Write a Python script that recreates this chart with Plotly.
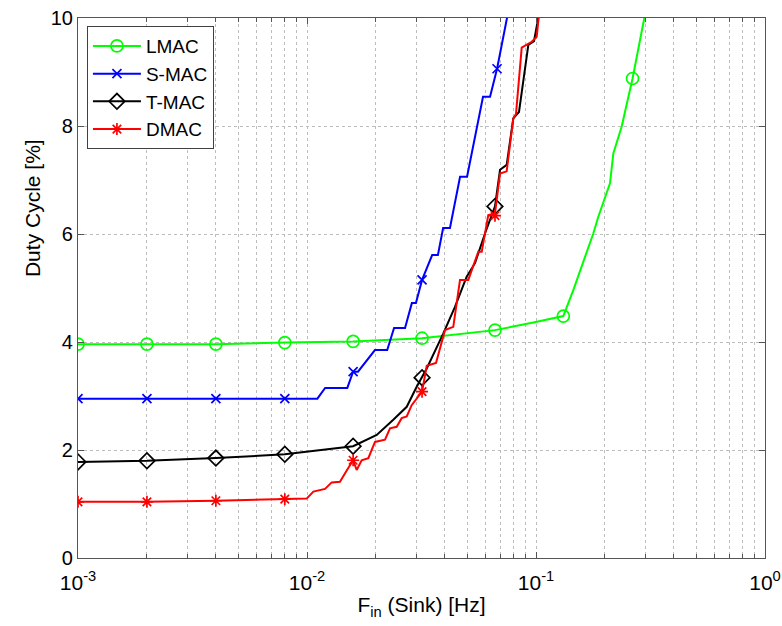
import plotly.graph_objects as go

# ---------------- data ----------------
# LMAC
LMAC_X = [0.001, 0.002, 0.004, 0.008, 0.0159, 0.0318, 0.0662, 0.0974, 0.1316, 0.1455,
          0.1665, 0.1779, 0.1871, 0.2104, 0.2176, 0.2367, 0.264, 0.2962, 0.31]
LMAC_Y = [3.96, 3.96, 3.96, 3.99, 4.01, 4.07, 4.22, 4.36, 4.48, 4.96,
          5.64, 6.01, 6.32, 6.94, 7.49, 7.99, 8.88, 10.0, 10.4]
LMAC_MX = [0.001, 0.002, 0.004, 0.008, 0.0159, 0.0318, 0.0662, 0.1316, 0.264]
LMAC_MY = [3.96, 3.96, 3.96, 3.99, 4.01, 4.07, 4.22, 4.48, 8.88]

# S-MAC
SMAC_X = [0.001, 0.002, 0.004, 0.008, 0.0111, 0.0120, 0.0150, 0.0159, 0.0167, 0.0198,
          0.0224, 0.0240, 0.0268, 0.0287, 0.0299, 0.0318, 0.0352, 0.0373, 0.0393, 0.0421,
          0.0466, 0.0500, 0.0587, 0.0630, 0.0676, 0.0747, 0.078]
SMAC_Y = [2.95, 2.95, 2.95, 2.95, 2.95, 3.15, 3.15, 3.45, 3.45, 3.85,
          3.85, 4.26, 4.26, 4.72, 4.72, 5.15, 5.61, 5.61, 6.11, 6.11,
          7.06, 7.06, 8.54, 8.54, 9.06, 10.0, 10.4]
SMAC_MX = [0.001, 0.002, 0.004, 0.008, 0.0159, 0.0318, 0.0676]
SMAC_MY = [2.95, 2.95, 2.95, 2.95, 3.45, 5.15, 9.06]

# T-MAC
TMAC_X = [0.001, 0.002, 0.004, 0.008, 0.0159, 0.02016, 0.02381, 0.02726, 0.03013, 0.0318,
          0.03333, 0.03938, 0.04427, 0.0498, 0.05415, 0.05987, 0.0662, 0.06965, 0.07447,
          0.07959, 0.08428, 0.09255, 0.0980, 0.1023, 0.104]
TMAC_Y = [1.78, 1.80, 1.85, 1.92, 2.07, 2.28, 2.56, 2.80, 3.17, 3.34,
          3.51, 4.16, 4.65, 5.21, 5.46, 6.01, 6.51, 7.19, 7.28,
          8.14, 8.26, 9.50, 9.57, 10.0, 10.4]
TMAC_MX = [0.001, 0.002, 0.004, 0.008, 0.0159, 0.0318, 0.0662]
TMAC_MY = [1.78, 1.80, 1.85, 1.92, 2.07, 3.34, 6.51]

# DMAC
DMAC_X = [0.001, 0.002, 0.004, 0.008, 0.00997, 0.01066, 0.01199, 0.01282, 0.01393, 0.01491,
          0.0159, 0.01648, 0.01733, 0.01853, 0.01981, 0.02191, 0.02304, 0.02464, 0.02591,
          0.02726, 0.02865, 0.0318, 0.03333, 0.03659, 0.04005, 0.04353, 0.04657, 0.05062,
          0.05598, 0.05793, 0.06189, 0.0662, 0.06965, 0.07447, 0.07959, 0.08177, 0.08661,
          0.09576, 0.1007, 0.1027, 0.104]
DMAC_Y = [1.04, 1.04, 1.06, 1.09, 1.10, 1.23, 1.28, 1.40, 1.41, 1.62,
          1.81, 1.63, 1.81, 1.85, 2.15, 2.19, 2.40, 2.43, 2.59,
          2.62, 2.83, 3.08, 3.56, 3.61, 4.22, 4.28, 5.15, 5.15,
          5.67, 5.67, 6.35, 6.38, 7.12, 7.16, 8.14, 8.22, 9.45,
          9.56, 9.65, 10.0, 10.4]
DMAC_MX = [0.001, 0.002, 0.004, 0.008, 0.0159, 0.0318, 0.0662]
DMAC_MY = [1.04, 1.04, 1.06, 1.09, 1.81, 3.08, 6.34]

X_TICKS = [0.001, 0.01, 0.1, 1]
X_TICKTEXT = ["10<sup>-3</sup>", "10<sup>-2</sup>", "10<sup>-1</sup>", "10<sup>0</sup>"]
Y_TICKS = [0, 2, 4, 6, 8, 10]

SERIES = [
    ("LMAC", LMAC_X, LMAC_Y, LMAC_MX, LMAC_MY, "#00ff00", "circle-open", 12),
    ("S-MAC", SMAC_X, SMAC_Y, SMAC_MX, SMAC_MY, "#0000ff", "x-thin-open", 9),
    ("T-MAC", TMAC_X, TMAC_Y, TMAC_MX, TMAC_MY, "#000000", "diamond-open", 12),
    ("DMAC", DMAC_X, DMAC_Y, DMAC_MX, DMAC_MY, "#ff0000", "asterisk-open", 10),
]

FONT = "Liberation Sans, Arial, sans-serif"

fig = go.Figure()
for name, lx, ly, mx, my, col, sym, ms in SERIES:
    fig.add_trace(go.Scatter(x=lx, y=ly, mode="lines", line=dict(color=col, width=2),
                             showlegend=False, legendgroup=name, hoverinfo="skip"))
    fig.add_trace(go.Scatter(x=mx, y=my, mode="markers",
                             marker=dict(symbol=sym, size=ms, color=col,
                                         line=dict(color=col, width=1.7)),
                             showlegend=False, legendgroup=name))
    fig.add_trace(go.Scatter(x=[None], y=[None], mode="lines+markers", name=name,
                             line=dict(color=col, width=2),
                             marker=dict(symbol=sym, size=ms, color=col,
                                         line=dict(color=col, width=1.7)),
                             legendgroup=name))

minor_vals = [m * 10 ** e for e in (-3, -2, -1) for m in range(2, 10)]

fig.update_layout(
    width=782, height=626,
    margin=dict(l=78, r=17, t=18, b=68),
    paper_bgcolor="white", plot_bgcolor="white",
    font=dict(family=FONT, size=19, color="black"),
    showlegend=True,
    legend=dict(x=0.013, y=0.985, xanchor="left", yanchor="top",
                bgcolor="white", bordercolor="#404040", borderwidth=1,
                font=dict(size=19, family=FONT), itemwidth=48,
                tracegroupgap=0),
    xaxis=dict(type="log", range=[-3, 0], tickvals=X_TICKS, ticktext=X_TICKTEXT,
               automargin=False,
               showline=True, linecolor="#555555", linewidth=1.2, mirror="ticks",
               ticks="inside", ticklen=6, tickcolor="#555555",
               showgrid=True, gridcolor="#bdbdbd", griddash="dot", gridwidth=1,
               minor=dict(tickvals=minor_vals, ticks="inside", ticklen=4,
                          tickcolor="#555555", showgrid=True, gridcolor="#bdbdbd",
                          griddash="dot", gridwidth=1),
               tickfont=dict(size=21), ticklabelstandoff=6, zeroline=False,
               title=dict(text="F<sub>in</sub> (Sink) [Hz]", font=dict(size=21), standoff=4)),
    yaxis=dict(range=[0, 10], tickvals=Y_TICKS, automargin=False,
               showline=True, linecolor="#555555", linewidth=1.2, mirror="ticks",
               ticks="inside", ticklen=6, tickcolor="#555555",
               showgrid=True, gridcolor="#bdbdbd", griddash="dot", gridwidth=1,
               tickfont=dict(size=20), zeroline=False),
    annotations=[dict(text="Duty Cycle [%]", textangle=-90, xref="paper", yref="paper",
                      x=-0.067, y=0.648, xanchor="center", yanchor="middle",
                      showarrow=False, font=dict(size=21, family=FONT))],
)

fig.write_html("out.html")
